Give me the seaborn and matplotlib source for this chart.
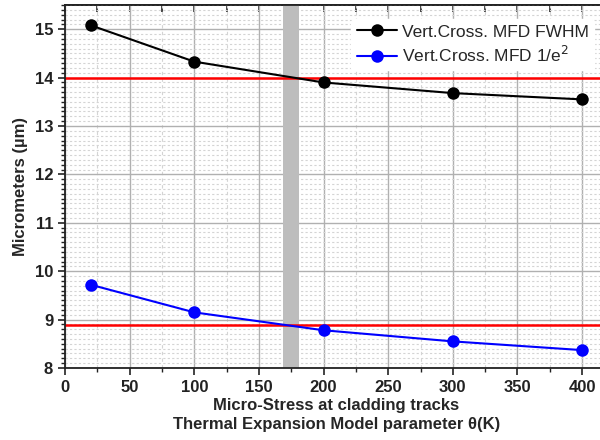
import matplotlib
matplotlib.use("Agg")
import matplotlib.pyplot as plt
import seaborn as sns
import pandas as pd
from matplotlib.ticker import MultipleLocator, NullFormatter

sns.set_theme(style="white")
plt.rcParams['font.family'] = ['Liberation Sans', 'DejaVu Sans']

theta = [20, 100, 200, 300, 400]
fwhm = [15.08, 14.33, 13.90, 13.68, 13.55]
e2 = [9.72, 9.15, 8.78, 8.55, 8.37]
series_names = ["Vert.Cross. MFD FWHM", "Vert.Cross. MFD 1/e$^2$"]
ref_levels = [14.0, 8.88]
band = [169, 181]

df = pd.DataFrame({
    "theta": theta * 2,
    "value": fwhm + e2,
    "series": [series_names[0]] * len(theta) + [series_names[1]] * len(theta),
})

fig = plt.figure(figsize=(6, 4.4), dpi=100)
ax = fig.add_axes([0.1083, 0.1636, 0.905, 0.825])

ax.axvspan(band[0], band[1], color="#bdbdbd", zorder=1, lw=0)
for lv in ref_levels:
    ax.axhline(lv, color="#ff0000", lw=1.8, zorder=2)

sns.lineplot(data=df, x="theta", y="value", hue="series",
             palette=["black", "#0000ff"], marker="o", markersize=9,
             markeredgewidth=0, linewidth=1.5, ax=ax, zorder=3)

ax.set_xlim(0, 420)
ax.set_ylim(8, 15.5)
ax.xaxis.set_major_locator(MultipleLocator(50))
ax.xaxis.set_minor_locator(MultipleLocator(25))
ax.yaxis.set_major_locator(MultipleLocator(1))
ax.yaxis.set_minor_locator(MultipleLocator(0.1))

ax.grid(which="major", color="#b0b0b0", lw=1.0, ls="-", zorder=0)
ax.grid(which="minor", axis="y", color="#d4d4d4", lw=0.8, ls=(0, (2, 2)), zorder=0)
ax.grid(which="minor", axis="x", color="#d4d4d4", lw=0.8, ls=(0, (3, 3)), zorder=0)
ax.set_axisbelow(True)

for s in ["left", "bottom", "top", "right"]:
    ax.spines[s].set_color("#222222")
    ax.spines[s].set_linewidth(1.3)

ax.tick_params(axis="both", which="major", direction="out", length=5, width=1.2,
               colors="#222222", labelsize=12, bottom=True, left=True)
ax.tick_params(axis="both", which="minor", direction="out", length=3, width=1.0,
               colors="#222222", bottom=True, left=True)
for lab in ax.get_xticklabels() + ax.get_yticklabels():
    lab.set_fontweight("bold")

top = ax.secondary_xaxis("top")
top.xaxis.set_major_locator(MultipleLocator(25))
top.xaxis.set_major_formatter(NullFormatter())
top.tick_params(axis="x", which="major", direction="in", length=5, width=1.2,
                colors="#222222")
top.spines["top"].set_linewidth(1.3)
top.spines["top"].set_color("#222222")

ax.set_xlabel("Micro-Stress at cladding tracks\nThermal Expansion Model parameter θ(K)",
              fontsize=12, fontweight="bold", labelpad=2, linespacing=1.35)
ax.set_ylabel("Micrometers (µm)", fontsize=12, fontweight="bold", labelpad=5)

leg = ax.legend(loc="upper right", bbox_to_anchor=(0.99, 0.985), fontsize=12.5,
                frameon=True, facecolor="white", edgecolor="white", framealpha=1,
                handlelength=2.3, handletextpad=0.3, borderpad=0.3, labelspacing=0.3)
leg.set_zorder(5)

fig.savefig("out.png", dpi=100)
